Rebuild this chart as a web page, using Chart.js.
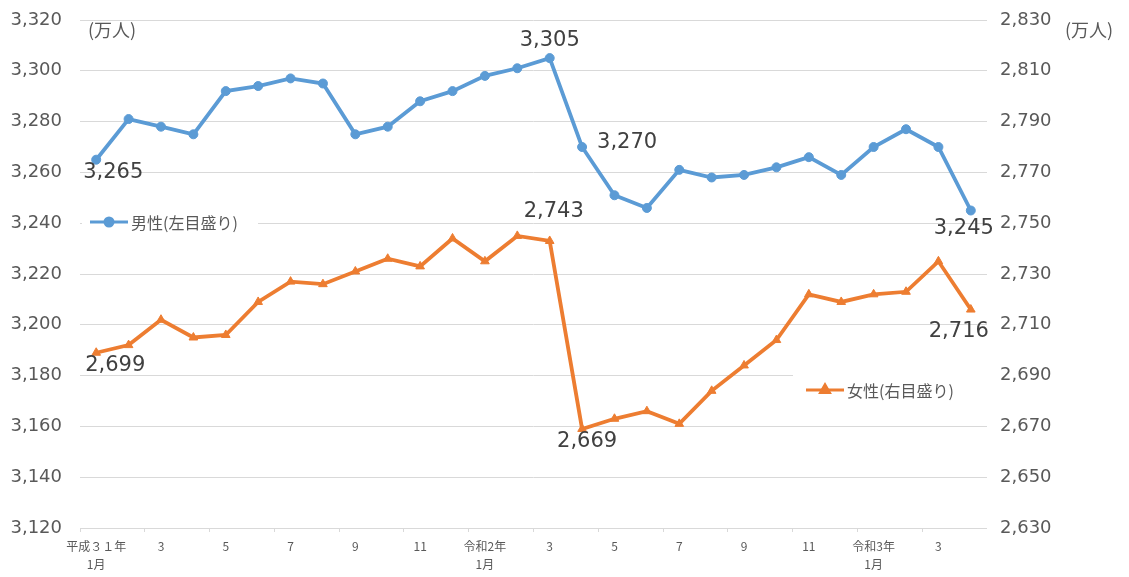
<!DOCTYPE html>
<html lang="ja">
<head>
<meta charset="utf-8">
<title>男女別就業者数の推移</title>
<script src="https://cdn.jsdelivr.net/npm/chart.js@4/dist/chart.umd.min.js"></script>
<style>
  html, body { margin: 0; padding: 0; background: #ffffff; }
  #wrap { width: 1129px; height: 577px; }
</style>
</head>
<body>
<div id="wrap"><canvas id="chart" width="1129" height="577"></canvas></div>
<script>
// Monthly categories: 平成31年1月 … 令和3年4月
const months = [
  'H31.1','H31.2','H31.3','H31.4','R1.5','R1.6','R1.7','R1.8','R1.9','R1.10','R1.11','R1.12',
  'R2.1','R2.2','R2.3','R2.4','R2.5','R2.6','R2.7','R2.8','R2.9','R2.10','R2.11','R2.12',
  'R3.1','R3.2','R3.3','R3.4'
];

// Tick labels shown under the axis (every other month)
const xTickLabels = [
  ['平成３１年','1月'], '', '3', '', '5', '', '7', '', '9', '', '11', '',
  ['令和2年','1月'], '', '3', '', '5', '', '7', '', '9', '', '11', '',
  ['令和3年','1月'], '', '3', ''
];

// 男性 (万人) — left scale
const maleValues = [
  3265, 3281, 3278, 3275, 3292, 3294, 3297, 3295, 3275, 3278, 3288, 3292,
  3298, 3301, 3305, 3270, 3251, 3246, 3261, 3258, 3259, 3262, 3266, 3259,
  3270, 3277, 3270, 3245
];

// 女性 (万人) — right scale
const femaleValues = [
  2699, 2702, 2712, 2705, 2706, 2719, 2727, 2726, 2731, 2736, 2733, 2744,
  2735, 2745, 2743, 2669, 2673, 2676, 2671, 2684, 2694, 2704, 2722, 2719,
  2722, 2723, 2735, 2716
];

// Axis ranges and tick steps
const leftTicks = { min: 3120, max: 3320, step: 20 };
const rightTicks = { min: 2630, max: 2830, step: 20 };

const seriesNames = ['男性(左目盛り)', '女性(右目盛り)'];
const unitLabel = '(万人)';

// Which points carry a value label (series index, point index)
const labelledPoints = [
  [0, 0], [0, 14], [0, 15], [0, 27],
  [1, 0], [1, 14], [1, 15], [1, 27]
];

const BLUE = '#5B9BD5';
const ORANGE = '#ED7D31';
const AXIS_TEXT = '#595959';
const GRID = '#d9d9d9';
const JP_FONT = '"Noto Sans CJK JP", "Noto Sans", sans-serif';
const NUM_FONT = '"DejaVu Sans", "Noto Sans", sans-serif';

const fmt = v => v.toLocaleString('en-US');

// Label offsets relative to the point, in pixels
const labelOffsets = {
  '0-0': [17, 13], '0-14': [0, -18], '0-15': [45, -4], '0-27': [-7, 18],
  '1-0': [19, 13], '1-14': [4, -29], '1-15': [5, 13], '1-27': [-12, 22]
};

const valueLabels = {
  id: 'valueLabels',
  afterDatasetsDraw(chart) {
    const ctx = chart.ctx;
    ctx.save();
    ctx.font = '21px ' + NUM_FONT;
    ctx.fillStyle = '#404040';
    ctx.textAlign = 'center';
    ctx.textBaseline = 'middle';
    labelledPoints.forEach(([s, i]) => {
      const el = chart.getDatasetMeta(s).data[i];
      const value = chart.data.datasets[s].data[i];
      const off = labelOffsets[s + '-' + i];
      ctx.fillText(fmt(value), el.x + off[0], el.y + off[1]);
    });
    ctx.restore();
  }
};

// Two separate legend entries placed inside the plot, each on a white box
const innerLegend = {
  id: 'innerLegend',
  afterDraw(chart) {
    const ctx = chart.ctx;
    const entries = [
      { text: seriesNames[0], color: BLUE, style: 'circle', box: [82, 210, 176, 26], x: 90, y: 222 },
      { text: seriesNames[1], color: ORANGE, style: 'triangle', box: [793, 368, 194, 40], x: 806, y: 390 }
    ];
    ctx.save();
    entries.forEach(e => {
      ctx.fillStyle = '#ffffff';
      ctx.fillRect(e.box[0], e.box[1], e.box[2], e.box[3]);
      ctx.strokeStyle = e.color;
      ctx.lineWidth = 3;
      ctx.beginPath();
      ctx.moveTo(e.x, e.y);
      ctx.lineTo(e.x + 38, e.y);
      ctx.stroke();
      Chart.helpers.drawPoint(ctx, {
        pointStyle: e.style, radius: e.style === 'circle' ? 4 : 5,
        borderWidth: 1, rotation: 0
      }, e.x + 19, e.y);
      ctx.fillStyle = e.color;
      ctx.fill();
      ctx.fillStyle = AXIS_TEXT;
      ctx.font = '16px ' + JP_FONT;
      ctx.textAlign = 'left';
      ctx.textBaseline = 'middle';
      ctx.fillText(e.text, e.x + 41, e.y + 1);
    });
    // unit captions next to both scales
    ctx.font = '18px ' + JP_FONT;
    ctx.fillStyle = AXIS_TEXT;
    ctx.textBaseline = 'middle';
    ctx.fillText(unitLabel, 88, 30);
    ctx.fillText(unitLabel, 1065, 30);
    ctx.restore();
  }
};

// Fix the scale widths and drop the label-overhang padding so the plot
// area spans exactly the frame below the top margin
const fitVertical = width => s => {
  s.width = width;
  s.paddingTop = 0;
  s.paddingBottom = 0;
};

new Chart(document.getElementById('chart'), {
  type: 'line',
  data: {
    labels: months,
    datasets: [
      {
        label: seriesNames[0], data: maleValues, yAxisID: 'y',
        borderColor: BLUE, backgroundColor: BLUE, borderWidth: 3.8,
        pointStyle: 'circle', pointRadius: 4.5, pointBorderWidth: 1,
        tension: 0
      },
      {
        label: seriesNames[1], data: femaleValues, yAxisID: 'y1',
        borderColor: ORANGE, backgroundColor: ORANGE, borderWidth: 3.8,
        pointStyle: 'triangle', pointRadius: 5, pointBorderWidth: 1,
        tension: 0
      }
    ]
  },
  options: {
    responsive: false,
    animation: false,
    layout: { padding: { top: 20, left: 0, right: 0, bottom: 0 } },
    plugins: { legend: { display: false }, tooltip: { enabled: false } },
    scales: {
      x: {
        offset: true,
        border: { display: false },
        grid: {
          offset: true, drawOnChartArea: false, drawTicks: true, tickLength: 4,
          color: c => (c.index % 2 === 0 ? GRID : 'rgba(0,0,0,0)')
        },
        ticks: {
          autoSkip: false, maxRotation: 0, minRotation: 0, padding: 6,
          color: AXIS_TEXT, font: { family: JP_FONT, size: 12, lineHeight: 1.45 },
          callback: (v, i) => xTickLabels[i]
        },
        afterFit: s => { s.height = 49; }
      },
      y: {
        position: 'left', min: leftTicks.min, max: leftTicks.max,
        border: { display: false },
        grid: { color: GRID, lineWidth: 1, drawTicks: false },
        ticks: {
          stepSize: leftTicks.step, padding: 18, color: AXIS_TEXT,
          font: { family: NUM_FONT, size: 18 },
          callback: v => fmt(v)
        },
        afterFit: fitVertical(80)
      },
      y1: {
        position: 'right', min: rightTicks.min, max: rightTicks.max,
        border: { display: false },
        grid: { display: false, drawTicks: false },
        ticks: {
          stepSize: rightTicks.step, padding: 13, color: AXIS_TEXT,
          font: { family: NUM_FONT, size: 18 },
          callback: v => fmt(v)
        },
        afterFit: fitVertical(142)
      }
    }
  },
  plugins: [valueLabels, innerLegend]
});
</script>
</body>
</html>
